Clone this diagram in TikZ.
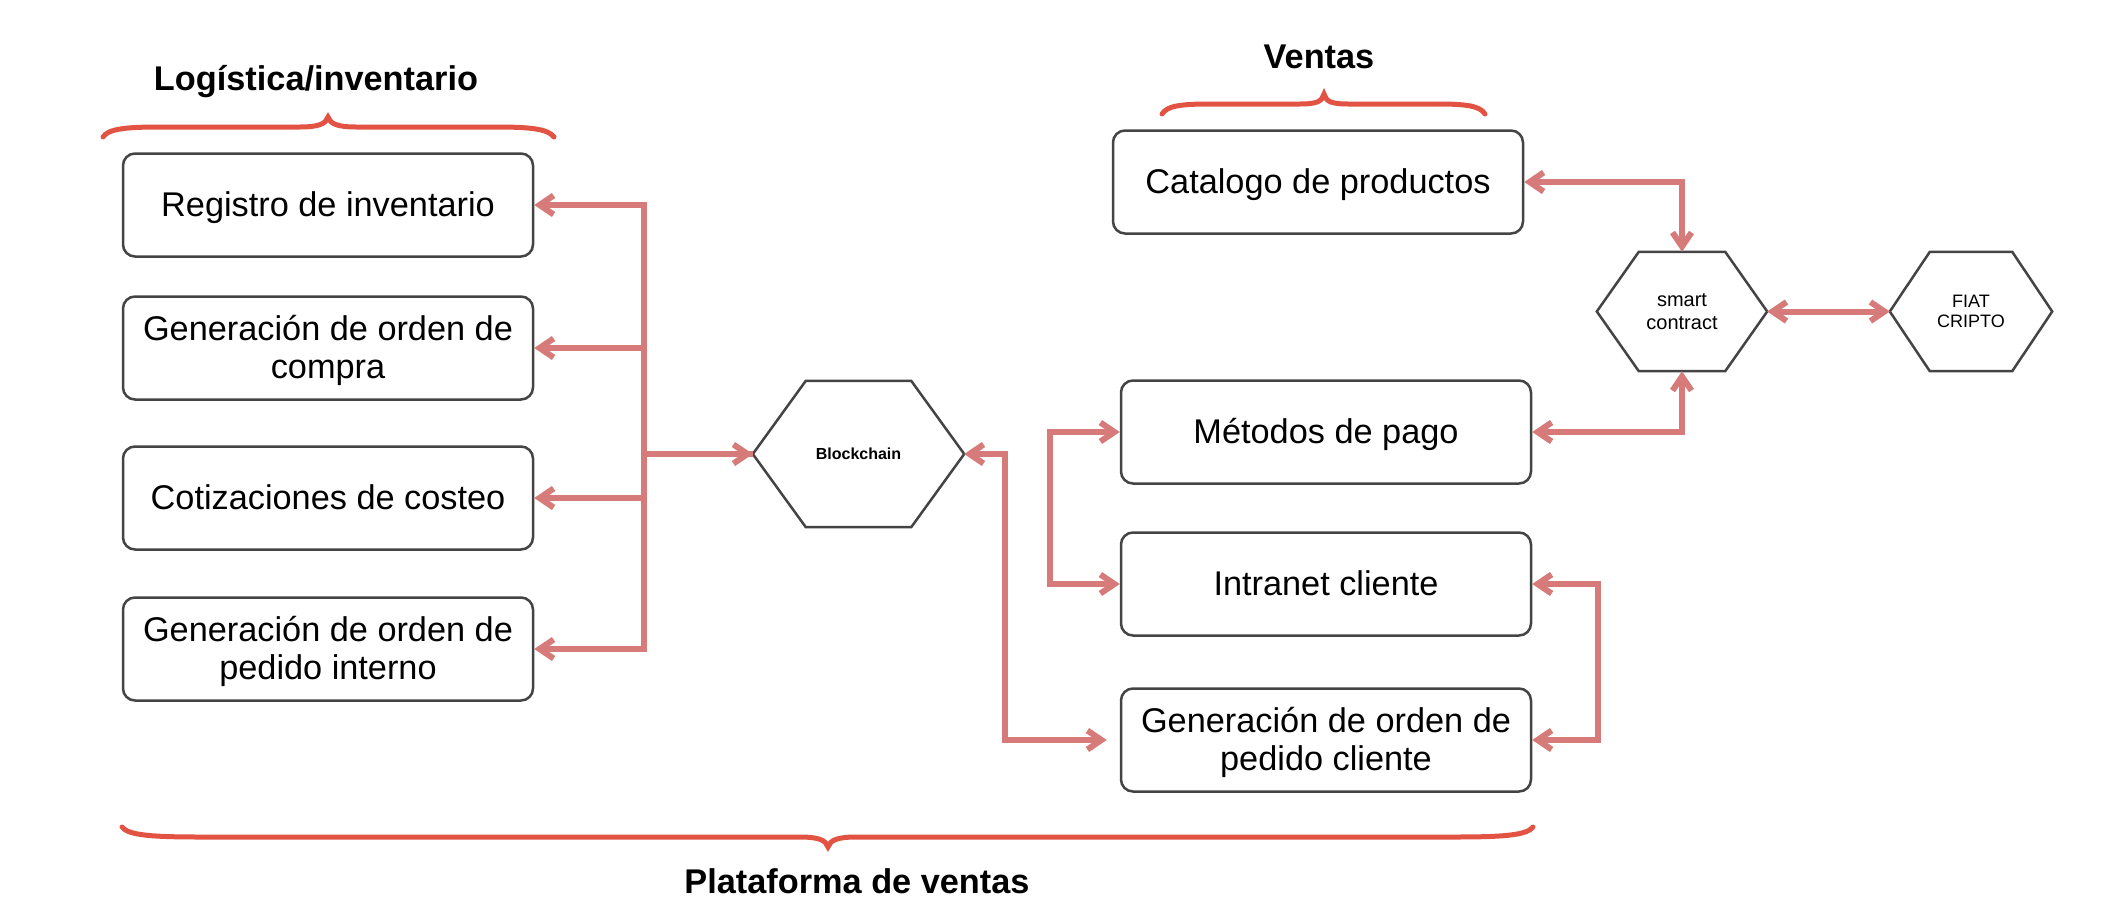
\documentclass[tikz,border=0pt]{standalone}
\usepackage{fontspec}
\setmainfont{Liberation Sans}
\usetikzlibrary{arrows.meta,calc}
\definecolor{arrowc}{RGB}{214,123,121}
\definecolor{bracec}{RGB}{226,83,67}
\definecolor{boxc}{RGB}{68,68,68}
\tikzset{mybarb/.tip={Straight Barb[length=14pt,width=19pt]}}
\newcommand\hexoutline[2]{\draw[draw=boxc,line width=2.5pt] (#1.west) -- ([xshift=#2]#1.north west) -- ([xshift=-#2]#1.north east) -- (#1.east) -- ([xshift=-#2]#1.south east) -- ([xshift=#2]#1.south west) -- cycle;}
\newcommand\bxstrut{\rule[-7.1pt]{0pt}{38pt}}
\begin{document}
\begin{tikzpicture}[x=1pt,y=-1pt,
  box/.style={draw=boxc, line width=2.5pt, rounded corners=12pt, minimum width=410pt, minimum height=103pt, align=center, inner sep=0pt, font=\fontsize{34.3}{38}\selectfont},
  hexbox/.style={inner sep=0pt, align=center},
  link/.style={draw=arrowc, line width=6pt},
  title/.style={font=\bfseries\fontsize{34.3}{40}\selectfont, inner sep=0pt},
  brace/.style={draw=bracec, line width=5pt, line cap=round}
]
\fill[white] (0,0) rectangle (2104,918);
\useasboundingbox (0,0) rectangle (2104,918);

% titles
\node[title, anchor=base] (tl) at (316,90) {Logística/inventario};
\node[title, anchor=base] (tv) at (1319,68) {Ventas};
\node[title, anchor=base] (tp) at (857,893) {Plataforma de ventas};

% braces
\draw[brace] (103,137) .. controls (108,129) and (125,127) .. (160,127) -- (300,127) .. controls (318,127) and (326,124) .. (328,117) .. controls (330,124) and (338,127) .. (356,127) -- (496,127) .. controls (531,127) and (548,129) .. (554,137);
\draw[brace] (1162,114) .. controls (1167,106) and (1180,104) .. (1210,104) -- (1300,104) .. controls (1318,104) and (1322,101) .. (1324,94) .. controls (1326,101) and (1330,104) .. (1348,104) -- (1437,104) .. controls (1467,104) and (1480,106) .. (1485,114);
\draw[brace] (122,827) .. controls (128,835) and (150,837) .. (200,837) -- (800,837) .. controls (818,837) and (826,840) .. (828,847) .. controls (830,840) and (838,837) .. (856,837) -- (1455,837) .. controls (1505,837) and (1527,835) .. (1533,827);

% left boxes
\node[box] (reg) at (328,205) {\bxstrut Registro de inventario};
\node[box] (com) at (328,348) {\bxstrut Generación de orden de\\\bxstrut compra};
\node[box] (cot) at (328,498) {\bxstrut Cotizaciones de costeo};
\node[box] (ped) at (328,649) {\bxstrut Generación de orden de\\\bxstrut pedido interno};

% hexagons
\node[hexbox, minimum width=211pt, minimum height=146pt, font=\bfseries\fontsize{16}{19}\selectfont] (blk) at (858.5,454) {Blockchain};
\hexoutline{blk}{53pt}
\node[hexbox, minimum width=170pt, minimum height=119pt, font=\fontsize{20}{23}\selectfont] (sc) at (1682,311.5) {smart\\contract};
\hexoutline{sc}{42pt}
\node[hexbox, minimum width=162pt, minimum height=119pt, font=\fontsize{18}{20.5}\selectfont] (fiat) at (1971,311.5) {FIAT\\CRIPTO};
\hexoutline{fiat}{40pt}

% right boxes
\node[box] (cat) at (1318,182) {\bxstrut Catalogo de productos};
\node[box] (met) at (1326,432) {\bxstrut Métodos de pago};
\node[box] (int) at (1326,584) {\bxstrut Intranet cliente};
\node[box] (cli) at (1326,740) {\bxstrut Generación de orden de\\\bxstrut pedido cliente};

% connectors left
\coordinate (bus) at (644,454);
\draw[link,-mybarb] (bus) -- (blk.west);
\draw[link,-mybarb] (blk.west) -- (bus) |- (reg.east);
\draw[link,-mybarb] (bus) |- (com.east);
\draw[link,-mybarb] (bus) |- (cot.east);
\draw[link,-mybarb] (bus) |- (ped.east);

% connectors right
\coordinate (bj) at (1005,454);
\draw[link,mybarb-mybarb,shorten >=13pt] (blk.east) -- (bj) |- (cli.west);
\draw[link,mybarb-mybarb] (met.west) -- ++(-70,0) |- (int.west);
\draw[link,mybarb-mybarb] (int.east) -- ++(66,0) |- (cli.east);
\draw[link,mybarb-mybarb] (cat.east) -| (sc.north);
\draw[link,mybarb-mybarb] (met.east) -| (sc.south);
\draw[link,mybarb-mybarb] (sc.east) -- (fiat.west);
\end{tikzpicture}
\end{document}
